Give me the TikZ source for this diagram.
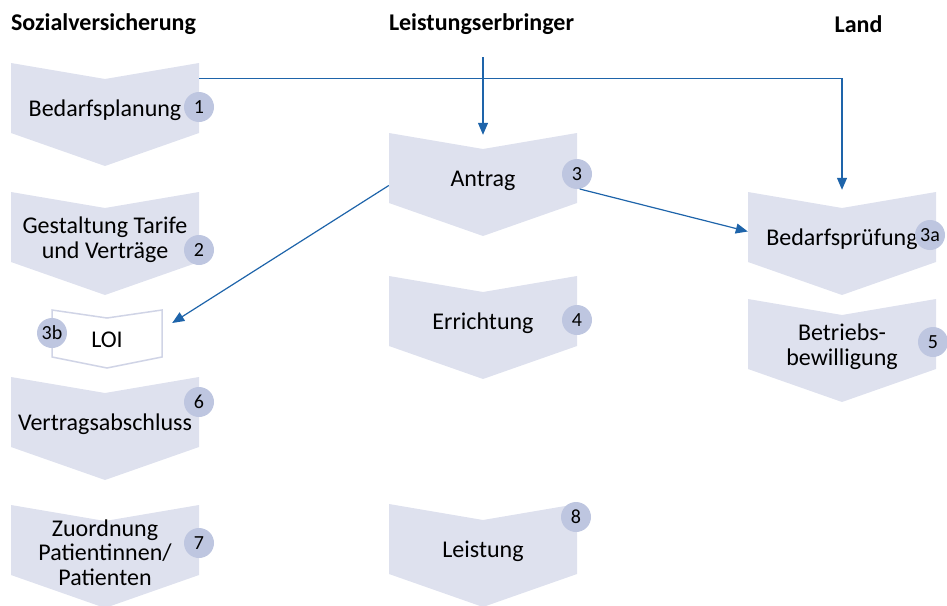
\documentclass[tikz,border=0pt]{standalone}
\usepackage{fontspec}
\setmainfont{Carlito}
\usetikzlibrary{arrows.meta,positioning,calc}
\definecolor{chevfill}{RGB}{222,225,238}
\definecolor{numfill}{RGB}{190,198,224}
\definecolor{loiline}{RGB}{208,212,230}
\definecolor{flowblue}{RGB}{30,100,170}

\begin{document}
\begin{tikzpicture}[x=1pt, y=-1pt,
  chev/.style={rectangle, minimum width=188pt, minimum height=111pt, inner sep=0pt, align=center, font=\fontsize{24}{24.5}\selectfont,
    path picture={\fill[chevfill] ([yshift=-8pt]path picture bounding box.north west) -- ++(94,16) -- ++(94,-16) -- ++(0,70) -- ++(-94,33) -- ++(-94,-33) -- cycle;}},
  loibox/.style={rectangle, minimum width=114pt, minimum height=64pt, inner sep=0pt, font=\fontsize{24}{24.5}\selectfont,
    path picture={\filldraw[fill=white, draw=loiline, line width=1.5pt] ([xshift=2pt,yshift=-2pt]path picture bounding box.north west) -- ++(55,8) -- ++(55,-8) -- ++(0,47) -- ++(-55,11) -- ++(-55,-11) -- cycle;}},
  num/.style={circle, fill=numfill, minimum size=30pt, inner sep=0pt, font=\fontsize{20}{20}\selectfont},
  head/.style={font=\fontsize{24}{24}\selectfont\bfseries},
  flow/.style={draw=flowblue, line width=1.2pt, -{Triangle[length=12pt,width=10pt]}}
]
\useasboundingbox (0,0) rectangle (947,605);

% column heads
\node[head] (hdSV) at (103.5,24) {Sozialversicherung};
\node[head] (hdLE) at (481.5,24) {Leistungserbringer};
\node[head] (hdLand) at (858.5,24) {Land};
\coordinate (leTop) at (483,57);

% Sozialversicherung
\node[chev] (plan) at (105,110.5) {Bedarfsplanung};
\node[chev] (tarif) at (105,239.5) {Gestaltung Tarife\\und Verträge};
\node[loibox] (loi) at (107,340) {LOI};
\node[chev] (vertrag) at (105,424.5) {Vertragsabschluss};
\node[chev] (zuord) at (105,552.5) {Zuordnung\\Patientinnen/\\Patienten};

% Leistungserbringer
\node[chev] (antrag) at (483,180.5) {Antrag};
\node[chev] (errich) at (483,323.5) {Errichtung};
\node[chev] (leist) at (483,551.5) {Leistung};

% Land
\node[chev] (pruef) at (842,239.5) {Bedarfsprüfung};
\node[chev] (betrieb) at (842,346.5) {Betriebs-\\bewilligung};

% step numbers
\node[num] (n1) at (199,107) {1};
\node[num] (n2) at (199,250) {2};
\node[num] (n3b) at (52,333) {3b};
\node[num] (n6) at (199,402) {6};
\node[num] (n7) at (199,543) {7};
\node[num] (n3) at (577,174) {3};
\node[num] (n4) at (577,320) {4};
\node[num] (n8) at (576,517) {8};
\node[num] (n3a) at (930,235) {3a};
\node[num] (n5) at (933,342) {5};

% arrows
\draw[flow] ([yshift=-24pt]plan.north east) -| ([yshift=-6pt]pruef.north);
\draw[flow] (leTop) -- ([yshift=-10pt]antrag.north);
\draw[flow] ([yshift=-5pt]antrag.west) -- ([xshift=8pt,yshift=17pt]loi.east);
\draw[flow] (n3.-80) -- ([yshift=8pt]pruef.west);
\end{tikzpicture}
\end{document}
